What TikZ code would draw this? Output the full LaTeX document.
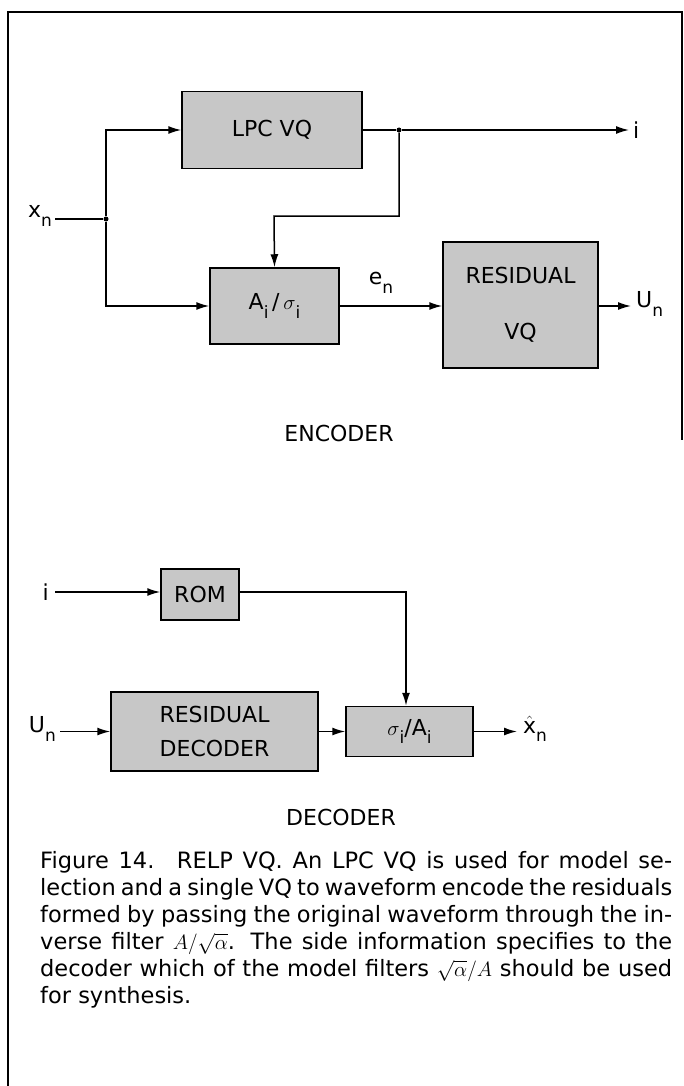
\documentclass[tikz,border=0pt]{standalone}
\usepackage{fontspec}
\setmainfont{DejaVu Sans}
\usetikzlibrary{arrows.meta}
\newcommand\subsc[1]{\raisebox{-0.38em}{\fontsize{17}{17}\selectfont #1}}
\begin{document}
\begin{tikzpicture}[x=1pt,y=-1pt,
  blk/.style={draw=black,line width=1.5pt,fill=black!22,minimum width=#1,inner sep=0pt,
    font=\fontsize{22}{26}\selectfont,align=center},
  wire/.style={line width=1.5pt},
  arr/.style={line width=1.5pt,-{Latex[length=13pt,width=8pt]}},
  lbl/.style={font=\fontsize{22}{22}\selectfont,inner sep=0pt},
  dot/.style={circle,fill=black,inner sep=0pt,minimum size=5pt},
  frame/.style={line width=1.2pt}]
\useasboundingbox (0,0) rectangle (684,1086);
% frame
\draw[frame] (8,1086) -- (8,12) -- (682,12) -- (682,440);
% ---------------- encoder ----------------
\node[blk=180pt,minimum height=77pt] (lpc) at (272,130) {LPC VQ};
\node[blk=129pt,minimum height=76pt] (afil) at (274.5,306) {A\subsc{i}\,/\,$\sigma$\subsc{i}};
\node[blk=155pt,minimum height=126pt] (rvq) at (520.5,305) {RESIDUAL\\[30pt]VQ};
\node[lbl,anchor=east] (xn) at (52,216) {x\subsc{n}};
\node[dot] (j1) at (106,219) {};
\node[dot] (j2) at (399,130) {};
\coordinate (iout) at (629,130);
\node[lbl,anchor=west] (ilab) at (633,130) {i};
\coordinate (c1) at (399,216);
\coordinate (c2) at (274,216);
\node[lbl] (en) at (381,283) {e\subsc{n}};
\coordinate (uout) at (631,306);
\node[lbl,anchor=west] (unlab) at (636,304) {U\subsc{n}};
\draw[wire] (xn.east |- j1) ++(3,0) -- (j1);
\draw[arr] (j1) |- (lpc.west);
\draw[arr] (j1) |- (afil.west);
\draw[wire] (lpc.east) -- (j2);
\draw[arr] (j2) -- (iout);
\draw[arr] (j2) -- (c1) -- (c2) -- (afil.north);
\draw[arr] (afil.east) -- (afil.east -| rvq.west);
\draw[arr] (afil.east -| rvq.east) -- (uout);
\node[lbl] (enc) at (339,433) {ENCODER};
% ---------------- decoder ----------------
\node[blk=78pt,minimum height=51pt] (rom) at (200,594.5) {ROM};
\node[blk=207pt,minimum height=79pt] (rdec) at (214.5,731.5) {RESIDUAL\\[8pt]DECODER};
\node[blk=127pt,minimum height=50pt] (sfil) at (409.5,731.5) {$\sigma$\subsc{i}/A\subsc{i}};
\node[lbl,anchor=east] (ilab2) at (49,592) {i};
\node[lbl,anchor=east] (unin) at (56,729) {U\subsc{n}};
\coordinate (r1) at (406,592);
\coordinate (xout) at (517,731.5);
\node[lbl,anchor=west] (xhat) at (523,729) {$\hat{\mbox{x}}$\subsc{n}};
\draw[arr] (ilab2.east) ++(6,0) -- (rom.west |- 0,592);
\draw[arr] (rom.east |- 0,592) -- (r1) -- (sfil.north -| r1);
\draw[arr] (unin.east |- rdec.west) ++(4,0) -- (rdec.west);
\draw[arr] (rdec.east) -- (sfil.west);
\draw[arr] (sfil.east) -- (xout);
\node[lbl] (dec) at (341,817) {DECODER};
% ---------------- caption ----------------
\node[anchor=north west,inner sep=0pt,text width=632pt,align=justify,
  font=\fontsize{22.5}{27}\selectfont] (cap) at (40,851) {%
Figure 14.\quad RELP VQ. An LPC VQ is used for model se-\linebreak
lection and a single VQ to waveform encode the residuals\linebreak
formed by passing the original waveform through the in-\linebreak
verse filter $A/\sqrt{\alpha}$. The side information specifies to the\linebreak
decoder which of the model filters $\sqrt{\alpha}/A$ should be used\linebreak
for synthesis.};
\end{tikzpicture}
\end{document}
